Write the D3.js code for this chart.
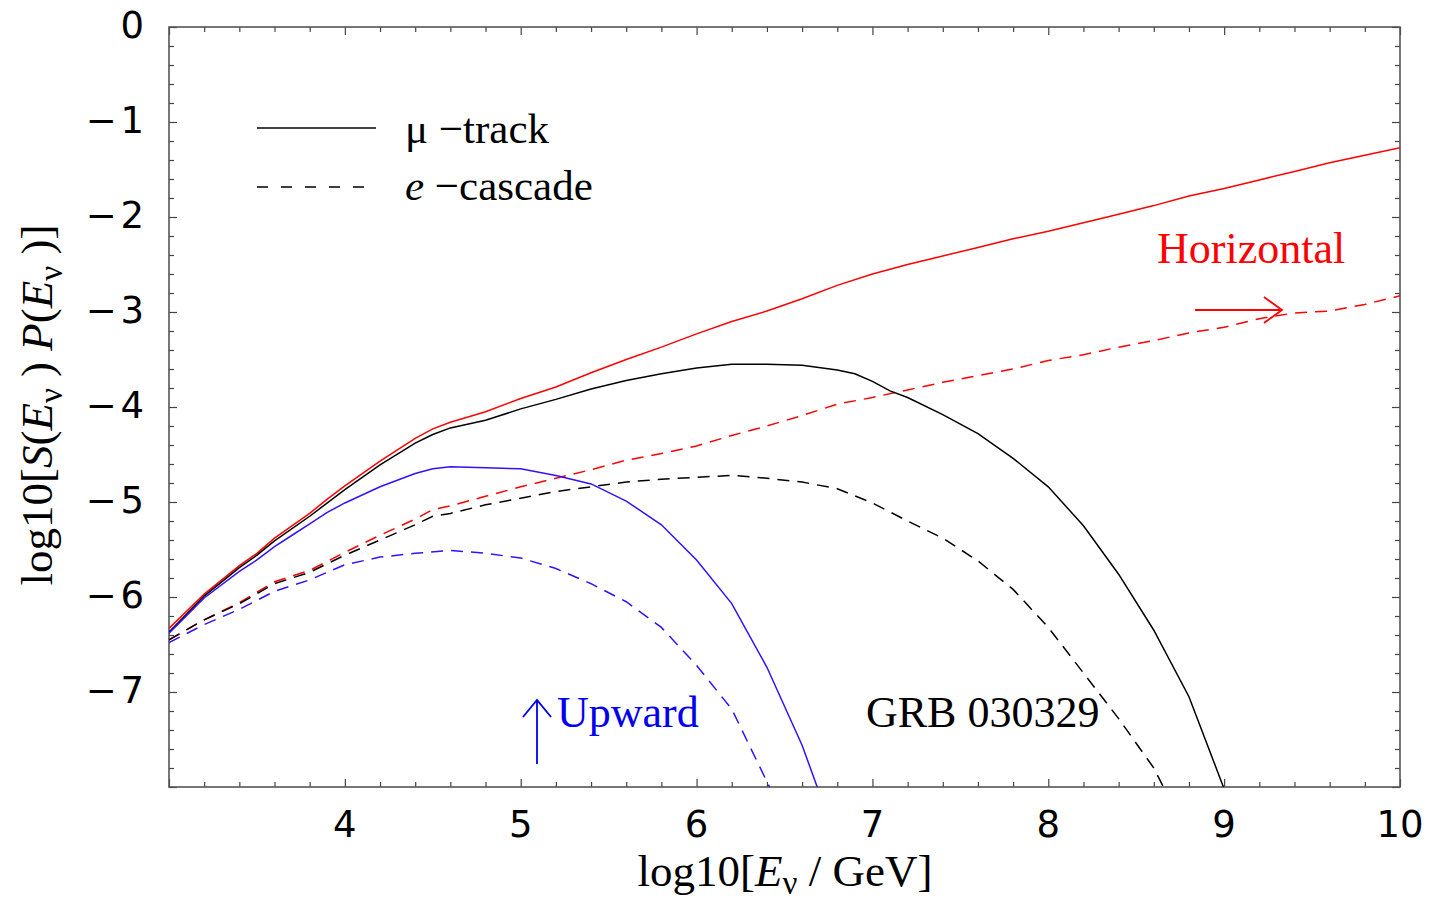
<!DOCTYPE html>
<html>
<head>
<meta charset="utf-8">
<script src="https://cdn.jsdelivr.net/npm/d3@7"></script>
<style>
  body { margin: 0; background: #fff; }
  svg text { fill: #000; }
</style>
</head>
<body>
<div id="chart"></div>
<script>
// [log10 E, log10 S*P]
const horizMu = [[3.0,-6.33],[3.2,-5.97],[3.4,-5.67],[3.5,-5.54],[3.6,-5.38],[3.8,-5.12],[3.9,-4.97],[4.0,-4.83],[4.2,-4.57],[4.4,-4.33],[4.5,-4.23],[4.6,-4.16],[4.8,-4.05],[5.0,-3.91],[5.2,-3.79],[5.4,-3.64],[5.6,-3.50],[5.8,-3.37],[6.0,-3.23],[6.2,-3.10],[6.4,-2.99],[6.6,-2.86],[6.8,-2.72],[7.0,-2.60],[7.2,-2.50],[7.4,-2.41],[7.6,-2.32],[7.8,-2.23],[8.0,-2.15],[8.2,-2.06],[8.4,-1.97],[8.6,-1.88],[8.8,-1.78],[9.0,-1.70],[9.2,-1.61],[9.4,-1.52],[9.6,-1.43],[9.8,-1.35],[10.0,-1.27]];
const horizE = [[3.0,-6.45],[3.2,-6.24],[3.4,-6.06],[3.6,-5.84],[3.8,-5.72],[4.0,-5.53],[4.2,-5.35],[4.4,-5.18],[4.5,-5.08],[4.6,-5.04],[4.8,-4.94],[5.0,-4.84],[5.2,-4.75],[5.4,-4.66],[5.6,-4.56],[5.8,-4.49],[6.0,-4.41],[6.2,-4.30],[6.4,-4.20],[6.6,-4.09],[6.8,-3.97],[7.0,-3.90],[7.2,-3.82],[7.4,-3.74],[7.6,-3.67],[7.8,-3.60],[8.0,-3.51],[8.2,-3.45],[8.4,-3.37],[8.6,-3.30],[8.8,-3.22],[9.0,-3.16],[9.2,-3.07],[9.4,-3.01],[9.6,-2.99],[9.8,-2.92],[10.0,-2.83]];
const totalMu = [[3.0,-6.37],[3.2,-5.99],[3.4,-5.69],[3.5,-5.56],[3.6,-5.41],[3.8,-5.15],[4.0,-4.87],[4.2,-4.61],[4.4,-4.38],[4.5,-4.29],[4.6,-4.22],[4.8,-4.14],[5.0,-4.02],[5.2,-3.92],[5.4,-3.81],[5.6,-3.72],[5.8,-3.65],[6.0,-3.59],[6.2,-3.55],[6.4,-3.55],[6.6,-3.56],[6.8,-3.61],[6.9,-3.65],[7.0,-3.73],[7.1,-3.83],[7.2,-3.90],[7.4,-4.08],[7.6,-4.28],[7.8,-4.54],[8.0,-4.84],[8.2,-5.25],[8.4,-5.76],[8.6,-6.35],[8.8,-7.05],[9.0,-8.02]];
const totalE = [[3.0,-6.45],[3.2,-6.24],[3.4,-6.07],[3.6,-5.86],[3.8,-5.74],[4.0,-5.56],[4.2,-5.40],[4.4,-5.24],[4.5,-5.15],[4.6,-5.12],[4.8,-5.03],[5.0,-4.96],[5.2,-4.89],[5.4,-4.84],[5.6,-4.79],[5.8,-4.76],[6.0,-4.74],[6.2,-4.72],[6.4,-4.75],[6.6,-4.79],[6.8,-4.86],[7.0,-5.01],[7.2,-5.20],[7.4,-5.38],[7.6,-5.62],[7.8,-5.92],[8.0,-6.32],[8.2,-6.80],[8.4,-7.28],[8.6,-7.80],[8.66,-8.02]];
const upMu = [[3.0,-6.38],[3.2,-6.01],[3.4,-5.73],[3.5,-5.61],[3.6,-5.47],[3.7,-5.35],[3.8,-5.23],[3.9,-5.11],[4.0,-5.01],[4.2,-4.84],[4.4,-4.70],[4.5,-4.65],[4.6,-4.63],[4.8,-4.64],[5.0,-4.65],[5.2,-4.72],[5.4,-4.81],[5.6,-4.99],[5.8,-5.24],[6.0,-5.61],[6.2,-6.07],[6.4,-6.74],[6.6,-7.56],[6.69,-8.02]];
const upE = [[3.0,-6.48],[3.2,-6.29],[3.4,-6.13],[3.6,-5.94],[3.8,-5.82],[4.0,-5.66],[4.2,-5.58],[4.4,-5.54],[4.6,-5.51],[4.8,-5.54],[5.0,-5.59],[5.2,-5.70],[5.4,-5.86],[5.6,-6.05],[5.8,-6.32],[6.0,-6.72],[6.2,-7.18],[6.42,-8.02]];

const xMajor = [4, 5, 6, 7, 8, 9, 10];
const yMajor = [0, -1, -2, -3, -4, -5, -6, -7];

const margin = { top: 27, right: 33, bottom: 117, left: 169 },
  width = 1433 - margin.left - margin.right,
  height = 904 - margin.top - margin.bottom;

const RED = "#ff0000", BLUE = "#3311ff";

const svg = d3.select("#chart")
  .append("svg")
  .attr("width", 1433)
  .attr("height", 904);

const chart = svg.append("g")
  .attr("transform", `translate(${margin.left},${margin.top})`);

const x = d3.scaleLinear().domain([3, 10]).range([0, width]);
const y = d3.scaleLinear().domain([-8, 0]).range([height, 0]);

chart.append("clipPath").attr("id", "plot")
  .append("rect").attr("width", width).attr("height", height);

// minor ticks every 0.2, inward on all four sides
const xMinor = d3.range(3, 10.001, 0.2).map(v => +v.toFixed(1));
const yMinor = d3.range(-8, 0.001, 0.2).map(v => +v.toFixed(1));
const isMajor = v => Math.abs(v - Math.round(v)) < 1e-6;

function tickAxis(axisFn, scale, vals, size, transform) {
  chart.append("g")
    .attr("transform", transform)
    .call(axisFn(scale).tickValues(vals).tickSize(size).tickFormat(""))
    .call(g => g.select(".domain").remove())
    .call(g => g.selectAll("line").attr("stroke", "#444").attr("stroke-width", 1.2));
}
tickAxis(d3.axisBottom, x, xMinor.filter(v => !isMajor(v)), -5, `translate(0,${height})`);
tickAxis(d3.axisBottom, x, xMinor.filter(isMajor), -8, `translate(0,${height})`);
tickAxis(d3.axisTop, x, xMinor.filter(v => !isMajor(v)), -5, "translate(0,0)");
tickAxis(d3.axisTop, x, xMinor.filter(isMajor), -8, "translate(0,0)");
tickAxis(d3.axisLeft, y, yMinor.filter(v => !isMajor(v)), -5, "translate(0,0)");
tickAxis(d3.axisLeft, y, yMinor.filter(isMajor), -8, "translate(0,0)");
tickAxis(d3.axisRight, y, yMinor.filter(v => !isMajor(v)), -5, `translate(${width},0)`);
tickAxis(d3.axisRight, y, yMinor.filter(isMajor), -8, `translate(${width},0)`);

chart.append("rect")
  .attr("width", width).attr("height", height)
  .attr("fill", "none").attr("stroke", "#555").attr("stroke-width", 1.6);

// tick labels
chart.selectAll(".xlab").data(xMajor).join("text")
  .attr("x", d => x(d)).attr("y", height + 50)
  .attr("text-anchor", "middle")
  .style("font-family", "DejaVu Sans").style("font-size", "37px")
  .text(d => d);

chart.selectAll(".ylab").data(yMajor).join("text")
  .attr("x", -25).attr("y", d => y(d) + 11)
  .attr("text-anchor", "end")
  .style("font-family", "DejaVu Sans").style("font-size", "37px")
  .text(d => d === 0 ? "0" : "\u2212\u200A" + Math.abs(d));

// curves
const line = d3.line().x(d => x(d[0])).y(d => y(d[1]));
const curves = [
  { data: horizMu, color: RED, dash: null },
  { data: horizE, color: RED, dash: "12,8" },
  { data: totalMu, color: "#000", dash: null },
  { data: totalE, color: "#000", dash: "12,8" },
  { data: upMu, color: BLUE, dash: null },
  { data: upE, color: BLUE, dash: "12,8" }
];
chart.append("g").attr("clip-path", "url(#plot)")
  .selectAll("path").data(curves).join("path")
  .attr("d", d => line(d.data))
  .attr("fill", "none")
  .attr("stroke", d => d.color)
  .attr("stroke-width", 1.5)
  .attr("stroke-dasharray", d => d.dash);

// legend
const serif = "Liberation Serif";
svg.append("line").attr("x1", 257).attr("x2", 376).attr("y1", 128).attr("y2", 128)
  .attr("stroke", "#000").attr("stroke-width", 1.5);
svg.append("line").attr("x1", 257).attr("x2", 368).attr("y1", 187).attr("y2", 187)
  .attr("stroke", "#000").attr("stroke-width", 1.5).attr("stroke-dasharray", "11,13");
svg.append("text").attr("x", 405).attr("y", 143)
  .style("font-family", serif).style("font-size", "43px")
  .text("\u03bc \u2212track");
const eLab = svg.append("text").attr("x", 405).attr("y", 200)
  .style("font-family", serif).style("font-size", "43px");
eLab.append("tspan").style("font-style", "italic").text("e");
eLab.append("tspan").text(" \u2212cascade");

// annotations
svg.append("text").attr("x", 1157).attr("y", 263)
  .style("font-family", serif).style("font-size", "44px").style("fill", RED)
  .text("Horizontal");
svg.append("path")
  .attr("d", "M1195,310H1282M1264,297L1282,310L1264,323")
  .attr("fill", "none").attr("stroke", RED).attr("stroke-width", 1.8);

svg.append("text").attr("x", 557).attr("y", 727)
  .style("font-family", serif).style("font-size", "44px").style("fill", "#0000ee")
  .text("Upward");
svg.append("path")
  .attr("d", "M537,764V700M523,717L537,700L551,717")
  .attr("fill", "none").attr("stroke", "#0000ee").attr("stroke-width", 1.8);

svg.append("text").attr("x", 866).attr("y", 727)
  .style("font-family", serif).style("font-size", "44px")
  .text("GRB 030329");

// axis titles
const xt = svg.append("text").attr("x", 785).attr("y", 886)
  .attr("text-anchor", "middle")
  .style("font-family", serif).style("font-size", "45px");
xt.append("tspan").text("log10[");
xt.append("tspan").style("font-style", "italic").text("E");
xt.append("tspan").attr("dy", 8).style("font-size", "33px").text("\u03bd");
xt.append("tspan").attr("dy", -8).text(" / GeV]");

const yt = svg.append("text")
  .attr("transform", "translate(52,405) rotate(-90)")
  .attr("text-anchor", "middle")
  .style("font-family", serif).style("font-size", "45px");
yt.append("tspan").text("log10[");
yt.append("tspan").style("font-style", "italic").text("S");
yt.append("tspan").text("(");
yt.append("tspan").style("font-style", "italic").text("E");
yt.append("tspan").attr("dy", 10).style("font-size", "33px").text("\u03bd");
yt.append("tspan").attr("dy", -10).text(" ) ");
yt.append("tspan").style("font-style", "italic").text("P");
yt.append("tspan").text("(");
yt.append("tspan").style("font-style", "italic").text("E");
yt.append("tspan").attr("dy", 10).style("font-size", "33px").text("\u03bd");
yt.append("tspan").attr("dy", -10).text(" )]");
</script>
</body>
</html>
